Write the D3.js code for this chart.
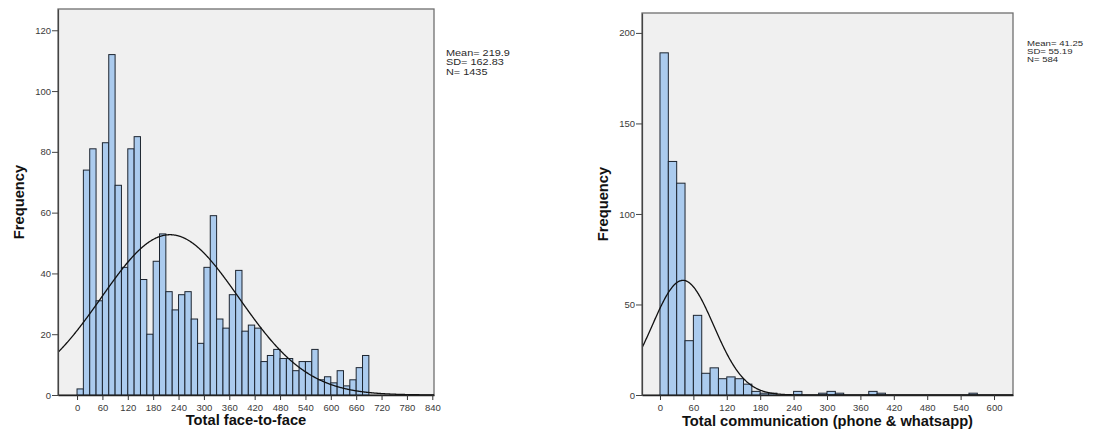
<!DOCTYPE html>
<html><head><meta charset="utf-8">
<script src="https://cdn.jsdelivr.net/npm/d3@7/dist/d3.min.js"></script>
<style>
body{margin:0;background:#fff;}
svg{display:block;font-family:"Liberation Sans",Arial,sans-serif;}
</style>
</head><body>
<svg id="chart" width="1096" height="441"></svg>
<script>
// ---------- DATA ----------
const binWidth = 15;
const f2fBinStarts = [0,15,30,45,60,75,90,105,120,135,150,165,180,195,210,225,240,255,270,285,300,315,330,345,360,375,390,405,420,435,450,465,480,495,510,525,540,555,570,585,600,615,630,645,660,675];
const f2fCounts    = [2,74,81,31,83,112,69,42,81,85,38,20,44,53,34,28,33,34,25,17,42,59,25,22,33,41,21,23,22,11,13,15,12,12,8,11,11,15,5,6,4,8,3,5,9,13];
const f2fStats = {mean: 219.9, sd: 162.83, n: 1435};
const f2fStatLabels = ["Mean= 219.9", "SD= 162.83", "N= 1435"];
const f2fXTicks = [0,60,120,180,240,300,360,420,480,540,600,660,720,780,840];
const f2fYTicks = [0,20,40,60,80,100,120];

const commBinStarts = [0,15,30,45,60,75,90,105,120,135,150,165,180,195,210,225,240,255,270,285,300,315,330,345,360,375,390,405,420,435,450,465,480,495,510,525,540,555];
const commCounts    = [189,129,117,30,44,12,15,9,10,9,6,2,1,1,0,0,2,0,0,1,2,1,0,0,0,2,1,0,0,0,0,0,0,0,0,0,0,1];
const commStats = {mean: 41.25, sd: 55.19, n: 584};
const commStatLabels = ["Mean= 41.25", "SD= 55.19", "N= 584"];
const commXTicks = [0,60,120,180,240,300,360,420,480,540,600];
const commYTicks = [0,50,100,150,200];

const titles = {
  yLabel: "Frequency",
  f2fX: "Total face-to-face",
  commX: "Total communication (phone & whatsapp)"
};

// ---------- DRAW ----------
const svg = d3.select("#chart");

function drawHist(cfg) {
  const g = svg.append("g");
  const x = d3.scaleLinear().domain(cfg.xDomain).range([cfg.left, cfg.right]);
  const y = d3.scaleLinear().domain(cfg.yDomain).range([cfg.bottom, cfg.top]);

  // plot background + frame
  g.append("rect")
    .attr("x", cfg.left).attr("y", cfg.top)
    .attr("width", cfg.right - cfg.left).attr("height", cfg.bottom - cfg.top)
    .attr("fill", "#f0f0f0").attr("stroke", "#6f6f6f").attr("stroke-width", 1.3);

  const clipId = "clip" + cfg.id;
  g.append("clipPath").attr("id", clipId).append("rect")
    .attr("x", cfg.left).attr("y", cfg.top)
    .attr("width", cfg.right - cfg.left).attr("height", cfg.bottom - cfg.top);

  const bins = cfg.starts.map((s, i) => ({x0: s, x1: s + binWidth, c: cfg.counts[i]})).filter(d => d.c > 0);
  g.append("g").selectAll("rect").data(bins).join("rect")
    .attr("x", d => x(d.x0))
    .attr("y", d => y(d.c))
    .attr("width", d => x(d.x1) - x(d.x0))
    .attr("height", d => y(0) - y(d.c))
    .attr("fill", "#abcbee")
    .attr("stroke", "#1d2530")
    .attr("stroke-width", 1);

  // fitted normal curve
  const {mean, sd, n} = cfg.stats;
  const pdf = v => Math.exp(-0.5 * ((v - mean) / sd) ** 2) / (sd * Math.sqrt(2 * Math.PI));
  const pts = d3.range(cfg.xDomain[0], cfg.xDomain[1] + 1, 1).map(v => [v, n * binWidth * pdf(v)]);
  g.append("path").datum(pts)
    .attr("clip-path", `url(#${clipId})`)
    .attr("d", d3.line().x(d => x(d[0])).y(d => y(d[1])))
    .attr("fill", "none").attr("stroke", "#111").attr("stroke-width", 1.3);

  // axes
  const ya = g.append("g").attr("transform", `translate(${cfg.left},0)`)
    .call(d3.axisLeft(y).tickValues(cfg.yTicks).tickSize(6).tickSizeOuter(0).tickPadding(1));
  ya.select(".domain").attr("stroke", "#444").attr("stroke-width", 1.2);
  ya.selectAll(".tick line").attr("stroke", "#444");
  ya.selectAll(".tick text").attr("fill", "#3a3a3a").style("font-size", "9.5px").style("font-family", '"Liberation Sans",Arial,sans-serif');

  const xa = g.append("g").attr("transform", `translate(0,${cfg.bottom})`)
    .call(d3.axisBottom(x).tickValues(cfg.xTicks).tickSize(5).tickSizeOuter(0).tickPadding(4));
  xa.select(".domain").attr("stroke", "#222").attr("stroke-width", 1.5);
  xa.selectAll(".tick line").attr("stroke", "#333");
  xa.selectAll(".tick text").attr("fill", "#3a3a3a").style("font-size", "9.5px").style("font-family", '"Liberation Sans",Arial,sans-serif');

  // axis titles
  g.append("text")
    .attr("transform", `translate(${cfg.yTitleX},${(cfg.top + cfg.bottom) / 2}) rotate(-90)`)
    .attr("text-anchor", "middle").attr("dy", "0.35em")
    .style("font-size", "14.7px").style("font-weight", "bold").attr("fill", "#111")
    .text(titles.yLabel);
  g.append("text")
    .attr("x", (cfg.left + cfg.right) / 2).attr("y", cfg.xTitleY)
    .attr("text-anchor", "middle")
    .style("font-size", "14.7px").style("font-weight", "bold").attr("fill", "#111")
    .text(cfg.xTitle);

  // stats box (text horizontally stretched like the source image)
  g.append("g").selectAll("text").data(cfg.statLabels).join("text")
    .attr("transform", (d, i) => `translate(${cfg.statX},${cfg.statY + i * cfg.statGap}) scale(${cfg.statSx},1)`)
    .style("font-size", cfg.statSize + "px").attr("fill", "#2a2a2a")
    .text(d => d);
}

drawHist({
  id: "L", left: 58, right: 434, top: 9, bottom: 395,
  xDomain: [-45, 844], yDomain: [0, 127],
  starts: f2fBinStarts, counts: f2fCounts, stats: f2fStats,
  xTicks: f2fXTicks, yTicks: f2fYTicks,
  yTitleX: 19, xTitleY: 425, xTitle: titles.f2fX,
  statLabels: f2fStatLabels, statX: 446, statY: 56, statGap: 9.3, statSize: 8.2, statSx: 1.33
});

drawHist({
  id: "R", left: 642, right: 1013, top: 13, bottom: 395,
  xDomain: [-32.3, 634.1], yDomain: [0, 211],
  starts: commBinStarts, counts: commCounts, stats: commStats,
  xTicks: commXTicks, yTicks: commYTicks,
  yTitleX: 603, xTitleY: 425.5, xTitle: titles.commX,
  statLabels: commStatLabels, statX: 1027, statY: 46, statGap: 8.1, statSize: 7.2, statSx: 1.33
});
</script>
</body></html>
